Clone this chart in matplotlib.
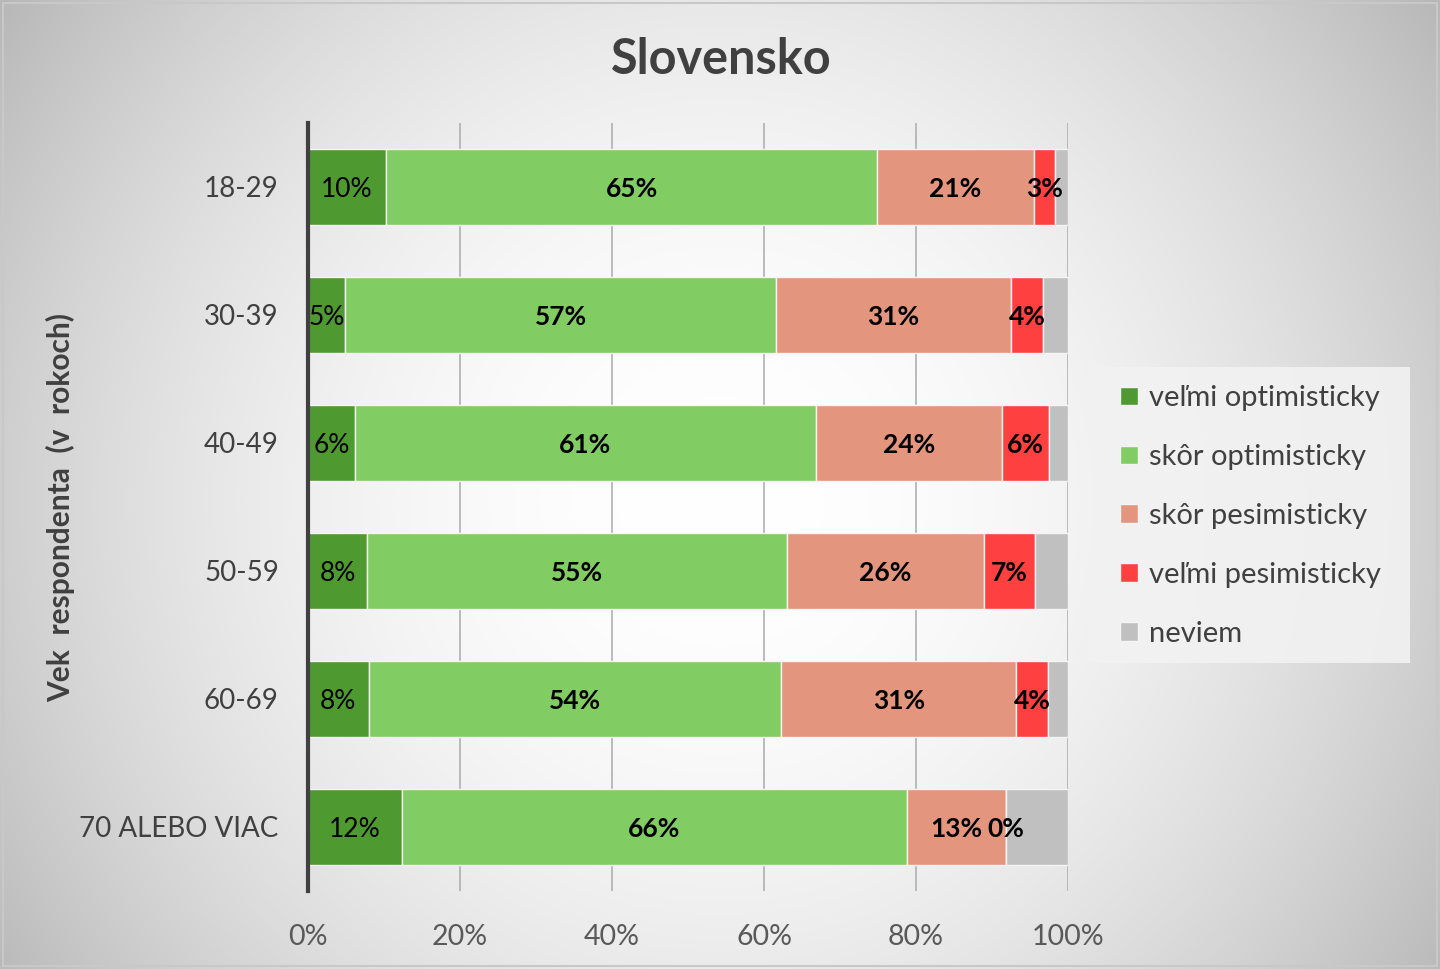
import numpy as np
import matplotlib
matplotlib.use("Agg")
from matplotlib import pyplot as plt
from matplotlib.patches import Rectangle

plt.rcParams['font.family'] = ['Lato', 'DejaVu Sans']

# Dáta
kategorie = ['18-29', '30-39', '40-49', '50-59', '60-69', '70 ALEBO VIAC']
serie = ['veľmi optimisticky', 'skôr optimisticky', 'skôr pesimisticky',
         'veľmi pesimisticky', 'neviem']
velmi_opt = [10.3, 4.9, 6.2, 7.8, 8.0, 12.4]
skor_opt = [64.6, 56.7, 60.6, 55.2, 54.3, 66.4]
skor_pes = [20.6, 30.9, 24.5, 25.9, 30.9, 13.0]
velmi_pes = [2.8, 4.2, 6.2, 6.8, 4.2, 0.0]
neviem = [1.7, 3.3, 2.5, 4.3, 2.6, 8.2]
xticks = [0, 20, 40, 60, 80, 100]

farby = ['#4E9A31', '#82CC64', '#E3957E', '#FF4040', '#C0C0C0']
hodnoty = [velmi_opt, skor_opt, skor_pes, velmi_pes, neviem]

W, H = 1440, 969
fig = plt.figure(figsize=(W / 100, H / 100), dpi=100)

# Pozadie - radiálny gradient
bg = fig.add_axes([0, 0, 1, 1], zorder=-10)
yy, xx = np.mgrid[0:H, 0:W]
r = np.sqrt((xx - 720) ** 2 + (yy - 500) ** 2) / 720.0
g = np.clip(1 - 0.19 * r ** 2, 0.72, 1)
bg.imshow(np.dstack([g, g, g]), aspect='auto', extent=[0, 1, 0, 1])
bg.axis('off')
fig.patches.append(Rectangle((0.002, 0.003), 0.996, 0.994, transform=fig.transFigure,
                             fill=False, edgecolor='#c8c8c8', lw=1.5))
# pozadie legendy
fig.patches.append(Rectangle((1088 / W, 1 - 663 / H), 322 / W, 296 / H,
                             transform=fig.transFigure, facecolor='#f2f2f2',
                             edgecolor='none', alpha=0.9, zorder=-5))

ax = fig.add_axes([308 / W, 1 - 891 / H, 760 / W, 768 / H])
ax.patch.set_alpha(0)

y = np.arange(len(kategorie))
vlavo = np.zeros(len(kategorie))
for i, (nazov, vals, farba) in enumerate(zip(serie, hodnoty, farby)):
    vals = np.array(vals)
    ax.barh(y, vals, left=vlavo, height=0.6, color=farba, label=nazov,
            edgecolor='#f4f4f4', linewidth=1.0, zorder=3)
    if i < 4:
        for yi, (l, v) in enumerate(zip(vlavo, vals)):
            ax.text(l + v / 2, yi, '{:.0f}%'.format(v), ha='center',
                    va='center_baseline', fontsize=19, color='black', zorder=5,
                    fontweight='normal' if i == 0 else 'bold')
    vlavo += vals

ax.set_xlim(0, 100)
ax.set_ylim(len(kategorie) - 0.5, -0.5)
ax.set_yticks(y)
ax.set_yticklabels(kategorie, fontsize=20, color='#404040')
ax.set_xticks(xticks)
ax.set_xticklabels(['{}%'.format(t) for t in xticks], fontsize=20.5, color='#595959')
ax.tick_params(axis='both', length=0)
ax.tick_params(axis='y', pad=21)
ax.tick_params(axis='x', pad=24)
ax.grid(axis='x', color='#b0b0b0', lw=1.2, zorder=0)
for s in ['top', 'right', 'bottom']:
    ax.spines[s].set_visible(False)
ax.spines['left'].set_color('#404040')
ax.spines['left'].set_linewidth(3)
ax.spines['left'].set_zorder(6)

ax.set_ylabel('Vek  respondenta  (v  rokoch)', fontsize=21.5, fontweight='bold',
              color='#404040')
ax.yaxis.set_label_coords(-0.306, 0.499)

fig.text(721 / W, 1 - 59 / H, 'Slovensko', ha='center', va='center',
         fontsize=35, fontweight='bold', color='#404040')

leg = ax.legend(loc='center left', bbox_to_anchor=(1088 / W, 1 - 516 / H),
                bbox_transform=fig.transFigure, fontsize=21, frameon=False,
                borderaxespad=0, handlelength=0.6, handleheight=0.6,
                handletextpad=0.4, labelspacing=1.13, borderpad=1.1,
                labelcolor='#404040')

fig.savefig('out.png', dpi=100)
